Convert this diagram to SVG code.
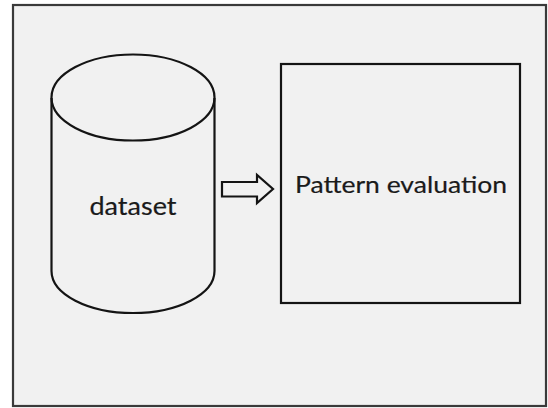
<svg xmlns="http://www.w3.org/2000/svg" width="548" height="408" viewBox="0 0 548 408">
<style>
.shape{fill:none;stroke:#141414;stroke-width:2.2;}
.lbl{font-family:Lato,"Open Sans","Liberation Sans",sans-serif;fill:#1a1a1a;stroke:#1a1a1a;stroke-width:0.2;}
</style>
<rect x="0" y="0" width="548" height="408" fill="#ffffff"/>
<g id="frame">
<rect x="13" y="5" width="533" height="401" fill="#f1f1f1" stroke="#3a3a3a" stroke-width="2.2"/>
</g>
<g id="dataset">
<path class="shape" d="M51.5,98 L51.5,271 A81.5,42 0 0 0 214.5,271 L214.5,98"/>
<ellipse class="shape" cx="133" cy="97.5" rx="81.5" ry="43"/>
<text class="lbl" x="133" y="215" font-size="25" text-anchor="middle" textLength="87" lengthAdjust="spacingAndGlyphs">dataset</text>
</g>
<g id="connectors">
<polygon class="shape" points="222,182 257,182 257,175 273,189 257,203 257,196.5 222,196.5"/>
</g>
<g id="pattern-evaluation">
<rect class="shape" x="281" y="64" width="239" height="239" stroke-width="2.5"/>
<text class="lbl" x="401" y="193" font-size="23" text-anchor="middle" textLength="212" lengthAdjust="spacingAndGlyphs">Pattern evaluation</text>
</g>
</svg>
